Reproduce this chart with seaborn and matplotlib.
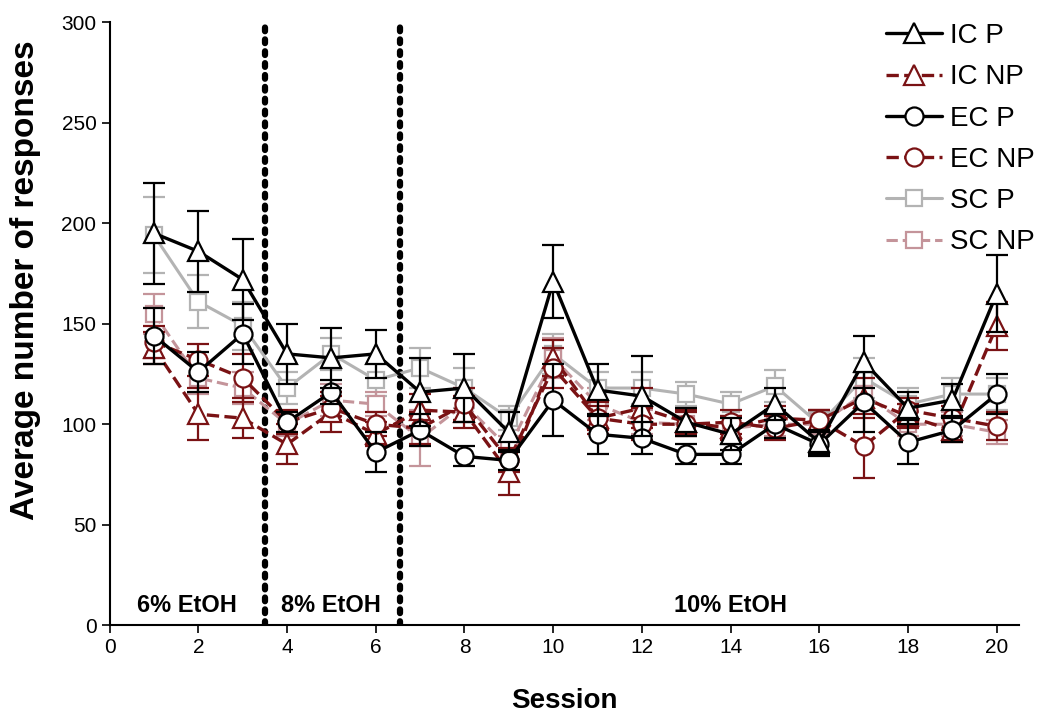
import numpy as np
import pandas as pd
import matplotlib
matplotlib.use("Agg")
import matplotlib.pyplot as plt
import seaborn as sns

sessions = list(range(1, 21))

ic_p = [195, 186, 172, 135, 133, 135, 116, 118, 96, 171, 117, 114, 101, 95, 110, 91, 131, 108, 112, 165]
ic_p_err = [25, 20, 20, 15, 15, 12, 17, 17, 10, 18, 13, 20, 7, 8, 8, 6, 13, 8, 8, 19]
ic_np = [138, 105, 103, 90, 106, 95, 107, 106, 76, 133, 103, 108, 101, 98, 103, 102, 113, 104, 97, 149]
ic_np_err = [8, 13, 10, 10, 10, 6, 8, 8, 11, 9, 8, 10, 6, 6, 6, 5, 10, 6, 6, 12]
ec_p = [144, 126, 145, 101, 116, 86, 97, 84, 82, 112, 95, 93, 85, 85, 100, 90, 111, 91, 97, 115]
ec_p_err = [14, 10, 15, 5, 6, 10, 8, 5, 5, 18, 10, 8, 5, 5, 7, 6, 15, 11, 6, 10]
ec_np = [141, 132, 123, 101, 108, 100, 98, 110, 82, 128, 103, 100, 100, 101, 98, 102, 89, 107, 103, 99]
ec_np_err = [8, 8, 12, 6, 6, 6, 8, 8, 6, 10, 6, 8, 6, 6, 6, 5, 16, 6, 6, 7]
sc_p = [194, 161, 149, 118, 135, 122, 128, 118, 103, 135, 118, 118, 115, 110, 119, 100, 123, 110, 115, 115]
sc_p_err = [19, 13, 12, 8, 8, 8, 10, 10, 6, 10, 8, 8, 6, 6, 8, 6, 10, 8, 8, 8]
sc_np = [155, 123, 118, 100, 112, 110, 93, 110, 88, 133, 110, 101, 100, 98, 100, 100, 115, 100, 100, 96]
sc_np_err = [10, 8, 8, 6, 8, 6, 14, 8, 6, 10, 8, 6, 6, 6, 6, 5, 8, 6, 6, 6]

phase_boundaries = [3.5, 6.55]
phase_labels = ["6% EtOH", "8% EtOH", "10% EtOH"]
phase_label_x = [1.75, 5.0, 14.0]

sns.set_style("ticks")
plt.rcParams['font.family'] = ['Liberation Sans', 'DejaVu Sans']
plt.rcParams['text.color'] = 'black'
plt.rcParams['axes.labelcolor'] = 'black'
plt.rcParams['xtick.color'] = 'black'
plt.rcParams['ytick.color'] = 'black'
plt.rcParams['axes.edgecolor'] = 'black'

fig = plt.figure(figsize=(10.44, 7.17), dpi=100)
ax = fig.add_axes([0.105, 0.128, 0.871, 0.841])

BLACK = "#000000"
DRED = "#7a1214"
GRAY = "#b3b3b3"
PINK = "#c4949a"

series = [
    # label, values, err, color, marker, linestyle, lw, zorder
    ("SC P", sc_p, sc_p_err, GRAY, "s", "-", 2.2, 2),
    ("SC NP", sc_np, sc_np_err, PINK, "s", "--", 2.2, 2),
    ("IC NP", ic_np, ic_np_err, DRED, "^", "--", 2.4, 3),
    ("EC NP", ec_np, ec_np_err, DRED, "o", "--", 2.4, 3),
    ("EC P", ec_p, ec_p_err, BLACK, "o", "-", 2.4, 4),
    ("IC P", ic_p, ic_p_err, BLACK, "^", "-", 2.4, 5),
]

for label, vals, err, color, marker, ls, lw, z in series:
    ax.errorbar(sessions, vals, yerr=err, fmt="none", ecolor=color,
                elinewidth=1.6, capsize=8, capthick=1.6, zorder=z)
    df = pd.DataFrame({"Session": sessions, "val": vals})
    ms = 14 if marker == "^" else (13 if marker == "o" else 12)
    sns.lineplot(data=df, x="Session", y="val", ax=ax, color=color,
                 marker=marker, markersize=ms, markerfacecolor="white",
                 markeredgecolor=color, markeredgewidth=1.6,
                 linewidth=lw, linestyle=ls, zorder=z + 0.5, label=label)

for xb in phase_boundaries:
    ax.axvline(xb, color="black", linewidth=4.5, linestyle=(0, (0.6, 1.3)),
               dash_capstyle="round", zorder=1)

for lab, xp in zip(phase_labels, phase_label_x):
    ax.text(xp, 4, lab, ha="center", va="bottom", fontsize=17,
            fontweight="bold")

ax.set_xlim(0, 20.5)
ax.set_ylim(0, 300)
ax.set_xticks(range(0, 21, 2))
ax.set_yticks(range(0, 301, 50))
ax.tick_params(axis="both", labelsize=15, length=6, width=1.2)
ax.set_xlabel("Session", fontsize=20, fontweight="bold", labelpad=22)
ax.set_ylabel("Average number of responses", fontsize=24, fontweight="bold")
ax.yaxis.set_label_coords(-0.075, 0.572)
for s in ["top", "right"]:
    ax.spines[s].set_visible(False)
for s in ["left", "bottom"]:
    ax.spines[s].set_linewidth(1.5)

h, l = ax.get_legend_handles_labels()
order = ["IC P", "IC NP", "EC P", "EC NP", "SC P", "SC NP"]
hd = dict(zip(l, h))
ax.legend([hd[k] for k in order], order, loc="upper right",
          bbox_to_anchor=(1.045, 1.04), frameon=False, fontsize=20,
          handlelength=2.0, handletextpad=0.3, labelspacing=0.55)

fig.savefig("out.png", dpi=100)
